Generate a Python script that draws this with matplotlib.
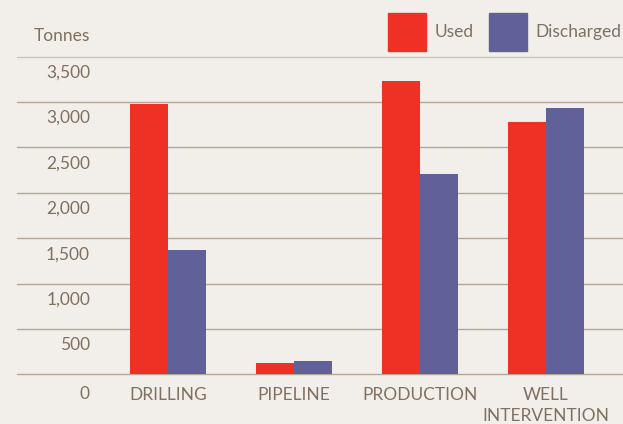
import matplotlib.pyplot as plt
import matplotlib.transforms as mtransforms
from matplotlib.patches import Rectangle
import numpy as np

# data
categories = ['DRILLING', 'PIPELINE', 'PRODUCTION', 'WELL\nINTERVENTION']
used = [2975, 125, 3230, 2780]
discharged = [1370, 145, 2205, 2935]
series_names = ['Used', 'Discharged']
y_ticks = [0, 500, 1000, 1500, 2000, 2500, 3000, 3500]
y_tick_labels = ['0', '500', '1,000', '1,500', '2,000', '2,500', '3,000', '3,500']

bg = '#F2EFEA'
red = '#EE3124'
blue = '#616199'
txt = '#807060'
grid = '#B3A898'

plt.rcParams['font.family'] = ['Lato', 'DejaVu Sans']

W, H = 623, 424
fig = plt.figure(figsize=(W / 100, H / 100), dpi=100, facecolor=bg)
ax = fig.add_axes([17 / W, 1 - 374.3 / H, (W - 17) / W, (374.3 - 56.7) / H])
ax.set_facecolor(bg)

x = np.arange(len(categories))
w = 38 / 126
ax.bar(x - w / 2, used, w, color=red, zorder=3)
ax.bar(x + w / 2, discharged, w, color=blue, zorder=3)
ax.set_xlim((17 - 168) / 126, (W - 168) / 126)
ax.set_ylim(0, 3500)

for t in y_ticks:
    c = '#CBC2B8' if t == y_ticks[-1] else grid
    ax.axhline(t, color=c, lw=1.0, zorder=1, clip_on=False)

for s in ax.spines.values():
    s.set_visible(False)

ax.set_xticks(x)
ax.set_xticklabels(categories, fontsize=12.5, color=txt, linespacing=1.35)
ax.tick_params(axis='x', length=0, pad=9.5)
ax.set_yticks([])

# y labels sit just under their grid line
base = mtransforms.blended_transform_factory(ax.transAxes, ax.transData)
for t, lab in zip(y_ticks, y_tick_labels):
    dy = -20 if t == 0 else -16
    tr = base + mtransforms.ScaledTranslation(0, dy / 100, fig.dpi_scale_trans)
    ax.text((90 - 17) / (W - 17), t, lab, transform=tr, ha='right', va='center',
            fontsize=12.5, color=txt)

fig.text(90 / W, 1 - 36 / H, 'Tonnes', ha='right', va='center', fontsize=12.5, color=txt)

# legend
for name, col, px, tx in zip(series_names, [red, blue], [388, 489], [435, 535]):
    fig.add_artist(Rectangle((px / W, 1 - 51 / H), 38 / W, 38 / H,
                             transform=fig.transFigure, color=col))
    fig.text(tx / W, 1 - 32 / H, name, ha='left', va='center', fontsize=12.5, color=txt)

plt.savefig('out.png', dpi=100, facecolor=bg)
